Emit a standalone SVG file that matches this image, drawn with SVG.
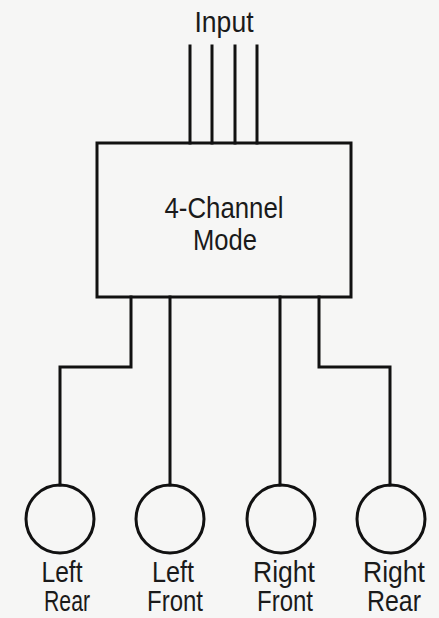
<svg xmlns="http://www.w3.org/2000/svg" width="439" height="618" viewBox="0 0 439 618">
<style>
.ln{fill:none;stroke:#111;stroke-width:3;stroke-linejoin:miter;stroke-linecap:square}
.t{font-family:"Liberation Sans",Arial,sans-serif;font-size:29px;fill:#1a1a1a;text-anchor:middle}
</style>
<rect width="439" height="618" fill="#f6f6f5"/>
<g id="input">
<text class="t" x="224" y="32" textLength="59" lengthAdjust="spacingAndGlyphs">Input</text>
</g>
<g id="connectors">
<path class="ln" d="M190 46V143M212 46V143M235 46V143M257 46V143"/>
<path class="ln" d="M131 297V367H60V485"/>
<path class="ln" d="M170 297V485"/>
<path class="ln" d="M280 297V485"/>
<path class="ln" d="M319 297V367H390V485"/>
</g>
<g id="mode">
<rect class="ln" x="97" y="143" width="254" height="154"/>
<text class="t" x="224" y="218" textLength="119" lengthAdjust="spacingAndGlyphs">4-Channel</text>
<text class="t" x="225" y="250" textLength="64" lengthAdjust="spacingAndGlyphs">Mode</text>
</g>
<g id="left-rear">
<circle class="ln" cx="60" cy="519" r="34"/>
<text class="t" x="62" y="582" textLength="41" lengthAdjust="spacingAndGlyphs">Left</text>
<text class="t" x="67" y="611" textLength="46" lengthAdjust="spacingAndGlyphs">Rear</text>
</g>
<g id="left-front">
<circle class="ln" cx="170" cy="519" r="34"/>
<text class="t" x="173" y="582" textLength="42" lengthAdjust="spacingAndGlyphs">Left</text>
<text class="t" x="175" y="611" textLength="56" lengthAdjust="spacingAndGlyphs">Front</text>
</g>
<g id="right-front">
<circle class="ln" cx="281" cy="519" r="34"/>
<text class="t" x="284" y="582" textLength="62" lengthAdjust="spacingAndGlyphs">Right</text>
<text class="t" x="285" y="611" textLength="56" lengthAdjust="spacingAndGlyphs">Front</text>
</g>
<g id="right-rear">
<circle class="ln" cx="391" cy="519" r="34"/>
<text class="t" x="394" y="582" textLength="62" lengthAdjust="spacingAndGlyphs">Right</text>
<text class="t" x="394" y="611" textLength="54" lengthAdjust="spacingAndGlyphs">Rear</text>
</g>
</svg>
